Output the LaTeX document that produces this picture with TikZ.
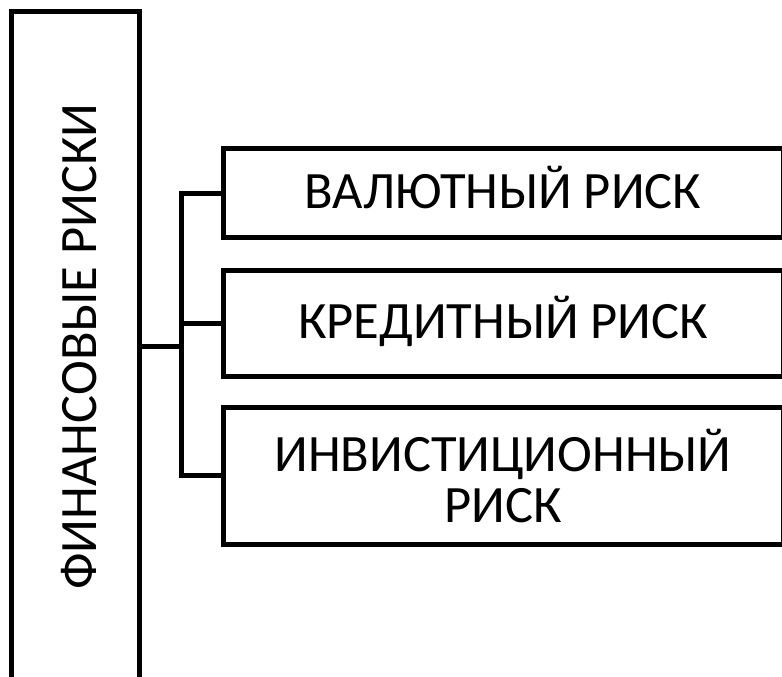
\documentclass[tikz,border=0pt]{standalone}
\usepackage{fontspec}
\setmainfont{Carlito}
\begin{document}
\begin{tikzpicture}[x=1pt,y=-1pt,line width=5pt]
  \tikzset{
    riskbox/.style={draw,rectangle,inner sep=0pt,minimum width=560pt,align=center,font=\fontsize{52.5}{51}\selectfont},
    oneline/.style={text height=34pt,text depth=4pt},
    risktext/.style={inner sep=0pt,font=\fontsize{52.5}{51}\selectfont}
  }
  \useasboundingbox (0,0) rectangle (782,677);
  \clip (0,0) rectangle (782,677);

  % main group box
  \node[draw,rectangle,inner sep=0pt,minimum width=127.3pt,minimum height=669.4pt] (fin) at (75.35,346.7) {};
  \node[risktext,rotate=90,yshift=-4pt] (finlabel) at (fin.center) {ФИНАНСОВЫЕ РИСКИ};

  % kinds of risk
  \node[riskbox,oneline,minimum height=89pt] (val) at (503,193.2) {ВАЛЮТНЫЙ РИСК};
  \node[riskbox,oneline,minimum height=106pt] (kred) at (503,323) {КРЕДИТНЫЙ РИСК};
  \node[riskbox,minimum height=137.7pt] (inv) at (503,475.85) {ИНВИСТИЦИОННЫЙ\\РИСК};

  \coordinate (bus) at (181.3,346.7);
  \draw (fin.east) -- (bus);
  \draw (val.west) -| (bus) |- (inv.west);
  \draw (kred.west) -- (kred.west -| bus);
\end{tikzpicture}
\end{document}
